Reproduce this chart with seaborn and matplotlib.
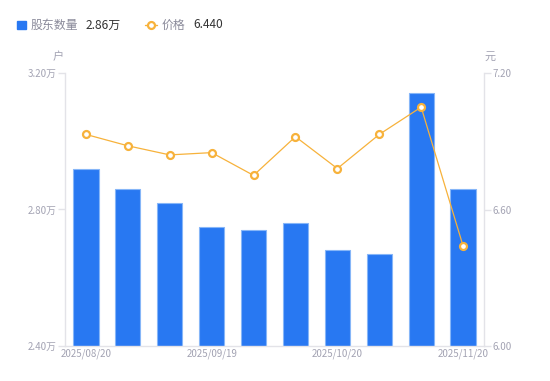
import pandas as pd
import matplotlib
matplotlib.use("Agg")
import matplotlib.pyplot as plt
from matplotlib.lines import Line2D
from matplotlib.patches import Rectangle
import seaborn as sns

# Data
dates = ["2025/08/20", "2025/08/31", "2025/09/10", "2025/09/19", "2025/09/30",
         "2025/10/10", "2025/10/20", "2025/10/31", "2025/11/10", "2025/11/20"]
holders = [2.92, 2.86, 2.82, 2.75, 2.74, 2.76, 2.68, 2.67, 3.14, 2.86]  # 万户
prices = [6.93, 6.88, 6.84, 6.85, 6.75, 6.92, 6.78, 6.93, 7.05, 6.44]

left_ticks = [2.40, 2.80, 3.20]
right_ticks = [6.00, 6.60, 7.20]
shown_dates = ["2025/08/20", "2025/09/19", "2025/10/20", "2025/11/20"]

df = pd.DataFrame({"date": dates, "holders": holders, "price": prices})

BLUE = "#2878f2"
ORANGE = "#f7b23b"
GRAY = "#a3a3b3"
AXIS = "#e3e3e8"

sns.set_theme(style="white")
plt.rcParams["font.family"] = ["Noto Sans CJK SC", "DejaVu Sans"]

fig = plt.figure(figsize=(5.5, 3.81), dpi=100)
ax = fig.add_axes([65 / 550, 1 - 346 / 381, 419 / 550, 273 / 381])

sns.barplot(data=df, x="date", y="holders", color=BLUE, width=0.6,
            edgecolor="#86b6f8", linewidth=0.8, saturation=1, ax=ax)
ax.set_ylim(left_ticks[0], left_ticks[-1])
ax.set_xlim(-0.5, len(dates) - 0.5)
ax.set_yticks(left_ticks)
ax.set_yticklabels([f"{t:.2f}万" for t in left_ticks])
ax.set_xticks([dates.index(d) for d in shown_dates])
ax.set_xticklabels(shown_dates)
ax.set_xlabel("")
ax.set_ylabel("")

ax2 = ax.twinx()
sns.lineplot(data=df, x="date", y="price", color=ORANGE, linewidth=0.9,
             marker="o", markersize=5, markerfacecolor="white",
             markeredgecolor=ORANGE, markeredgewidth=1.6, ax=ax2)
ax2.set_ylim(right_ticks[0], right_ticks[-1])
ax2.set_yticks(right_ticks)
ax2.set_yticklabels([f"{t:.2f}" for t in right_ticks])
ax2.set_xlim(-0.5, len(dates) - 0.5)
ax2.set_ylabel("")
ax2.set_xlabel("")

for a in (ax, ax2):
    a.spines["top"].set_visible(False)
    for side in ("left", "right", "bottom"):
        a.spines[side].set_color(AXIS)
        a.spines[side].set_linewidth(1)
    a.tick_params(axis="y", colors=AXIS, labelcolor=GRAY, labelsize=7,
                  length=5, width=1, pad=1)
    a.tick_params(axis="x", length=0, labelcolor=GRAY, labelsize=7, pad=2)
    a.grid(False)
ax2.spines["left"].set_visible(False)
ax2.spines["bottom"].set_visible(False)
ax.spines["right"].set_visible(False)

# axis units
fig.text(58 / 550, 1 - 57 / 381, "户", color=GRAY, fontsize=8, ha="center", va="center")
fig.text(490 / 550, 1 - 57 / 381, "元", color=GRAY, fontsize=8, ha="center", va="center")

# legend header
fig.patches.append(Rectangle((17 / 550, 1 - 29 / 381), 9 / 550, 8 / 381,
                             transform=fig.transFigure, color=BLUE, figure=fig))
fig.text(31 / 550, 1 - 25 / 381, "股东数量", color="#8a8a9a", fontsize=8.6, va="center")
fig.text(86 / 550, 1 - 25 / 381, f"{holders[-1]:.2f}万", color="#333333", fontsize=8.6, va="center")
fig.lines.append(Line2D([145 / 550, 157 / 550], [1 - 25 / 381] * 2, transform=fig.transFigure,
                        color=ORANGE, linewidth=1, figure=fig))
fig.lines.append(Line2D([151 / 550], [1 - 25 / 381], transform=fig.transFigure,
                        color=ORANGE, marker="o", markersize=5, markerfacecolor="white",
                        markeredgewidth=1.6, linestyle="none", figure=fig))
fig.text(162 / 550, 1 - 25 / 381, "价格", color="#8a8a9a", fontsize=8.6, va="center")
fig.text(193 / 550, 1 - 25 / 381, f"{prices[-1]:.3f}", color="#333333", fontsize=8.6, va="center")

fig.savefig("out.png", dpi=100)
